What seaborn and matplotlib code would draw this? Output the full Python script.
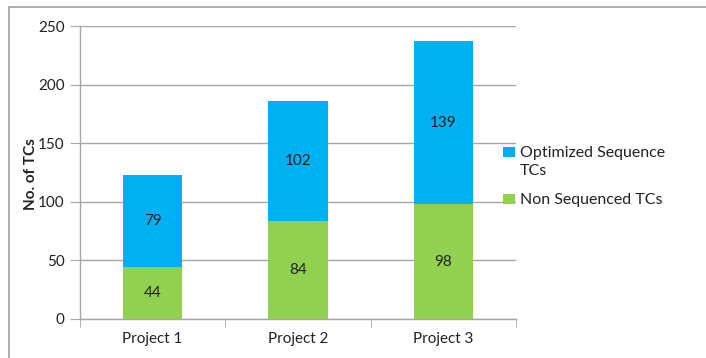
import matplotlib
matplotlib.use("Agg")
import matplotlib.pyplot as plt
import seaborn as sns
import pandas as pd
from matplotlib.patches import Rectangle
from matplotlib.lines import Line2D

projects = ["Project 1", "Project 2", "Project 3"]
non_sequenced = [44, 84, 98]
optimized = [79, 102, 139]
yticks = [0, 50, 100, 150, 200, 250]
legend_labels = ["Optimized Sequence\nTCs", "Non Sequenced TCs"]

blue = "#00B0F0"
green = "#92D050"
grid_c = "#a6a6a6"
txt_c = "#222222"

sns.set_style("white")
plt.rcParams["font.family"] = ["Lato", "DejaVu Sans"]

df = pd.DataFrame({"project": projects,
                   "non": non_sequenced,
                   "opt": optimized})
df["total"] = df["non"] + df["opt"]

W, H = 706, 358
fig = plt.figure(figsize=(W / 100, H / 100), dpi=100)
ax = fig.add_axes([80/W, 1-319/H, (516-80)/W, (319-26)/H])

sns.barplot(data=df, x="project", y="total", color=blue, width=0.41,
            saturation=1, ax=ax, zorder=3, edgecolor="none", linewidth=0)
sns.barplot(data=df, x="project", y="non", color=green, width=0.41,
            saturation=1, ax=ax, zorder=3, edgecolor="none", linewidth=0)

for i, (n, o) in enumerate(zip(non_sequenced, optimized)):
    ax.text(i, n / 2, str(n), ha="center", va="center", fontsize=11, color=txt_c, zorder=4)
    ax.text(i, n + o / 2, str(o), ha="center", va="center", fontsize=11, color=txt_c, zorder=4)

ax.set_xlim(-0.5, 2.5)
ax.set_ylim(0, 250)
ax.set_yticks(yticks)
ax.set_yticklabels([str(t) for t in yticks], fontsize=11, color=txt_c)
ax.yaxis.grid(True, color=grid_c, linewidth=1, zorder=0)
ax.set_axisbelow(True)
ax.set_xlabel("")
ax.set_ylabel("")
ax.tick_params(axis="x", length=0, labelsize=11, labelcolor=txt_c, pad=9)
ax.set_xticks([-0.5, 0.5, 1.5, 2.5], minor=True)
ax.tick_params(axis="x", which="minor", length=6, color=grid_c, direction="out", bottom=True)
ax.tick_params(axis="y", length=7, color=grid_c, direction="out", left=True, pad=4)
for s in ["top", "right"]:
    ax.spines[s].set_visible(False)
for s in ["left", "bottom"]:
    ax.spines[s].set_color(grid_c)
    ax.spines[s].set_linewidth(1)

fig.text(31/W, 1-174/H, "No. of TCs", rotation=90, ha="center", va="center",
         fontsize=11, fontweight="bold", color=txt_c)

# legend drawn by hand (square aligned with the first text line)
leg_rows = [(blue, 147), (green, 194)]
for (col, ytop), lab in zip(leg_rows, legend_labels):
    fig.patches.append(Rectangle((503/W, 1-(ytop+10)/H), 12/W, 10/H,
                                 transform=fig.transFigure, facecolor=col,
                                 edgecolor="none"))
    fig.text(520/W, 1-(ytop-1)/H, lab, ha="left", va="top", fontsize=11.5,
             color=txt_c, linespacing=1.35)

# frame fragments (top and left edges)
fig.lines.append(Line2D([9/W, 1], [1-7/H, 1-7/H], transform=fig.transFigure,
                        color="#a0a0a0", linewidth=1.2))
fig.lines.append(Line2D([9/W, 9/W], [0, 1-7/H], transform=fig.transFigure,
                        color="#a0a0a0", linewidth=1.2))

fig.savefig("out.png", dpi=100)
